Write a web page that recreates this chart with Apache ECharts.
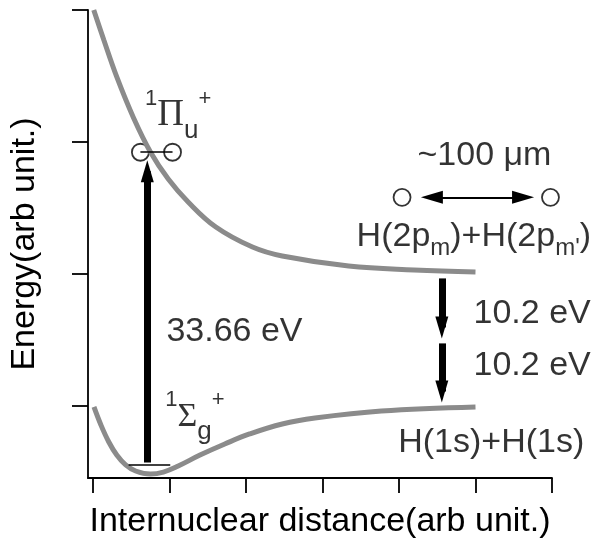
<!DOCTYPE html>
<html>
<head>
<meta charset="utf-8">
<script src="https://cdn.jsdelivr.net/npm/echarts@6.0.0/dist/echarts.min.js"></script>
<style>
  html, body { margin: 0; padding: 0; background: #fff; }
  #chart { width: 597px; height: 552px; }
</style>
</head>
<body>
<div id="chart"></div>
<script>
// potential curves as [distance, energy] in axis units
const piCurve = [[0.01, 3.0], [0.142, 2.772], [0.311, 2.492], [0.531, 2.181], [0.751, 1.923], [0.984, 1.718],
                 [1.244, 1.544], [1.606, 1.354], [2.085, 1.202], [2.474, 1.134], [3.342, 1.058], [4.197, 1.028],
                 [5.0, 1.013]];
const sigmaCurve = [[0.013, -0.011], [0.104, -0.148], [0.207, -0.277], [0.311, -0.376], [0.427, -0.451],
                    [0.557, -0.497], [0.751, -0.52], [0.92, -0.505], [1.114, -0.459], [1.399, -0.376],
                    [1.723, -0.292], [2.047, -0.216], [2.474, -0.14], [2.902, -0.095], [3.769, -0.042],
                    [5.0, -0.011]];
const xTicks = [0, 1, 2, 3, 4, 5, 6];
const yTicks = [0, 1, 2, 3];

// atoms drawn as open circles
const atoms = [[0.62, 1.921], [1.04, 1.921], [4.04, 1.579], [5.98, 1.579]];

// arrows: [from, to(arrowhead centre)]
const excite = [[0.71, -0.433], [0.71, 1.777]];
const decay1 = [[4.56, 0.964], [4.56, 0.592]];
const decay2 = [[4.56, 0.471], [4.56, 0.106]];
const separation = [[4.43, 1.579], [5.622, 1.579]];
const groundLevel = [[0.466, -0.448], [1.01, -0.448]];
const bond = [[0.62, 1.921], [1.04, 1.921]];

// text annotations
const labelText = ['33.66 eV', '10.2 eV', '10.2 eV', '~100 \u03bcm', 'H(1s)+H(1s)',
                   'H(2p{s|m})+H(2p{s|m\'})', '{p|1}{g|\u03a0}{b|u}{p|+}', '{p|1}{g|\u03a3}{b|g}{p|+}'];
const labelAt = [[0.96, 0.562], [4.974, 0.699], [4.974, 0.304], [5.117, 1.898], [3.99, -0.281],
                 [3.446, 1.283], [0.68, 2.2], [0.946, -0.087]];

const FONT = '"Liberation Sans", Arial, sans-serif';
const SERIF = '"Liberation Serif", serif';
const GREY = '#8b8b8b';

const chart = echarts.init(document.getElementById('chart'));

function arrow(seg, width, both) {
    return [
        { coord: seg[0], symbol: both ? 'triangle' : 'none', symbolSize: [13, 22], lineStyle: { width: width } },
        { coord: seg[1], symbol: 'triangle', symbolSize: [13, 22] }
    ];
}
function plain(seg, width) {
    return [
        { coord: seg[0], symbol: 'none', lineStyle: { width: width } },
        { coord: seg[1], symbol: 'none' }
    ];
}

// sub/superscript styles; the Pi label sits lower in its line than the Sigma one
function richFor(i) {
    const pi = i === 6;
    return {
        s: { fontFamily: FONT, fontSize: 24, color: '#000', verticalAlign: 'bottom', lineHeight: 48 },
        p: { fontFamily: FONT, fontSize: 22, color: '#000', verticalAlign: 'top', lineHeight: pi ? 6 : 22 },
        g: { fontFamily: SERIF, fontSize: pi ? 37 : 34, color: '#000', verticalAlign: 'middle', lineHeight: 56 },
        b: { fontFamily: FONT, fontSize: 26, color: '#000', verticalAlign: 'bottom', lineHeight: pi ? 42 : 26 }
    };
}

const options = {
    animation: false,
    grid: { left: 84, right: 45, top: 10, bottom: 74 },
    xAxis: {
        type: 'value',
        min: -0.065,
        max: 6,
        name: 'Internuclear distance(arb unit.)',
        nameLocation: 'middle',
        nameGap: 27,
        nameTextStyle: { fontFamily: FONT, fontSize: 34, color: '#000' },
        axisLine: { onZero: false, lineStyle: { color: '#000', width: 1.8 } },
        axisTick: { customValues: xTicks, length: 15, lineStyle: { color: '#000', width: 1.8 } },
        axisLabel: { show: false },
        splitLine: { show: false }
    },
    yAxis: {
        type: 'value',
        min: -0.55,
        max: 3,
        name: 'Energy(arb unit.)',
        nameLocation: 'middle',
        nameGap: 46,
        nameTextStyle: { fontFamily: FONT, fontSize: 34, color: '#000' },
        axisLine: { show: true, onZero: false, lineStyle: { color: '#000', width: 1.8 } },
        axisTick: { show: true, customValues: yTicks, length: 16, lineStyle: { color: '#000', width: 1.8 } },
        axisLabel: { show: false },
        splitLine: { show: false }
    },
    series: [
        {
            type: 'line',
            data: [],
            z: 2,
            silent: true,
            markLine: {
                silent: true,
                animation: false,
                label: { show: false },
                emphasis: { disabled: true },
                lineStyle: { color: '#000', type: 'solid' },
                data: [
                    arrow(excite, 7),
                    arrow(decay1, 7),
                    arrow(decay2, 7),
                    arrow(separation, 2, true),
                    plain(groundLevel, 1.5),
                    plain(bond, 1.5)
                ]
            }
        },
        {
            type: 'scatter',
            data: atoms,
            z: 3,
            symbol: 'circle',
            symbolSize: 17,
            itemStyle: { color: '#fff', borderColor: '#000', borderWidth: 1.8 },
            silent: true
        },
        {
            type: 'line',
            data: piCurve,
            z: 4,
            smooth: 0.4,
            showSymbol: false,
            lineStyle: { color: GREY, width: 5 },
            silent: true
        },
        {
            type: 'line',
            data: sigmaCurve,
            z: 4,
            smooth: 0.4,
            showSymbol: false,
            lineStyle: { color: GREY, width: 5 },
            silent: true
        },
        {
            type: 'scatter',
            z: 5,
            symbolSize: 0,
            silent: true,
            data: labelAt.map((p, i) => ({
                value: p,
                label: {
                    show: true,
                    position: 'inside',
                    formatter: labelText[i],
                    align: i === 3 ? 'center' : 'left',
                    verticalAlign: 'middle',
                    color: '#000',
                    fontFamily: FONT,
                    fontSize: 34,
                    rich: richFor(i)
                }
            }))
        }
    ]
};

chart.setOption(options);
</script>
</body>
</html>
